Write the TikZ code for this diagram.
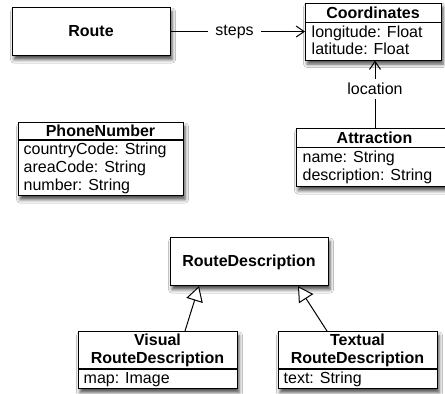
\documentclass[tikz,border=0pt]{standalone}
\usepackage{fontspec}
\setmainfont{Liberation Sans}
\usetikzlibrary{arrows.meta,shadows.blur}
\begin{document}
\begin{tikzpicture}[x=1pt,y=-1pt,font=\fontsize{16}{18}\selectfont,
 cls/.style={draw=black,line width=1.1pt,fill=white,inner sep=0pt,anchor=north west,
   blur shadow={shadow xshift=1.5pt,shadow yshift=-4pt,shadow blur radius=3.5pt,shadow opacity=70}},
 hd/.style={font=\fontsize{16}{18}\selectfont\bfseries,anchor=base,inner sep=0pt},
 att/.style={anchor=base west,inner sep=0pt},
 sepline/.style={line width=1.1pt},
 lbl/.style={fill=white,inner xsep=7pt,inner ysep=4pt},
 assoc/.style={line width=1pt,-{Straight Barb[length=8pt,width=11pt,line width=1pt]}},
 gen/.style={line width=1pt,-{Triangle[open,fill=white,length=15pt,width=17pt,line width=1pt]}}]
\path[fill=white,use as bounding box] (0,0) rectangle (445,394);

% Route
\node[cls,minimum width=158pt,minimum height=48pt] (route) at (12,7) {};
\node[hd] (routet) at (91,36.5) {Route};

% Coordinates
\node[cls,minimum width=136pt,minimum height=57pt] (coord) at (305,2.5) {};
\draw[sepline] (305,22.5) -- (441,22.5);
\node[hd] (coordt) at (373,18) {Coordinates};
\node[att] (coord1) at (311.5,37.5) {longitude: Float};
\node[att] (coord2) at (311.5,54.5) {latitude: Float};

% PhoneNumber
\node[cls,minimum width=165pt,minimum height=73pt] (phone) at (18,122) {};
\draw[sepline] (18,140) -- (183,140);
\node[hd] (phonet) at (100.5,136) {PhoneNumber};
\node[att] (phone1) at (23.5,154.5) {countryCode: String};
\node[att] (phone2) at (23.5,172.5) {areaCode: String};
\node[att] (phone3) at (23.5,190.5) {number: String};

% Attraction
\node[cls,minimum width=157pt,minimum height=58pt] (attr) at (296,128) {};
\draw[sepline] (296,147.5) -- (453,147.5);
\node[hd] (attrt) at (374.5,143) {Attraction};
\node[att] (attr1) at (302.5,162.5) {name: String};
\node[att] (attr2) at (302.5,180.5) {description: String};

% RouteDescription
\node[cls,minimum width=158pt,minimum height=48pt] (rd) at (170,237) {};
\node[hd] (rdt) at (249,266.5) {RouteDescription};

% VisualRouteDescription
\node[cls,minimum width=159pt,minimum height=57pt] (vis) at (78,331) {};
\draw[sepline] (78,369) -- (237,369);
\node[hd] (vist1) at (157.5,345.5) {Visual};
\node[hd] (vist2) at (157.5,363.5) {RouteDescription};
\node[att] (vis1) at (83.5,383.5) {map: Image};

% TextualRouteDescription
\node[cls,minimum width=159pt,minimum height=57pt] (txt) at (278,331) {};
\draw[sepline] (278,369) -- (437,369);
\node[hd] (txtt1) at (357.5,345.5) {Textual};
\node[hd] (txtt2) at (357.5,363.5) {RouteDescription};
\node[att] (txt1) at (283.5,383.5) {text: String};

% connectors
\coordinate (lx) at (375,0);
\coordinate (v1) at (185,0);
\coordinate (v2) at (199,0);
\coordinate (t1) at (327,0);
\coordinate (t2) at (298,0);
\draw[assoc] (route.east) -- node[lbl,pos=0.474] (stepsl) {steps} (coord.west);
\draw[assoc] (attr.north -| lx) -- node[lbl,pos=0.578] (locl) {location} (coord.south -| lx);
\draw[gen] (vis.north -| v1) -- (rd.south -| v2);
\draw[gen] (txt.north -| t1) -- (rd.south -| t2);
\end{tikzpicture}
\end{document}
